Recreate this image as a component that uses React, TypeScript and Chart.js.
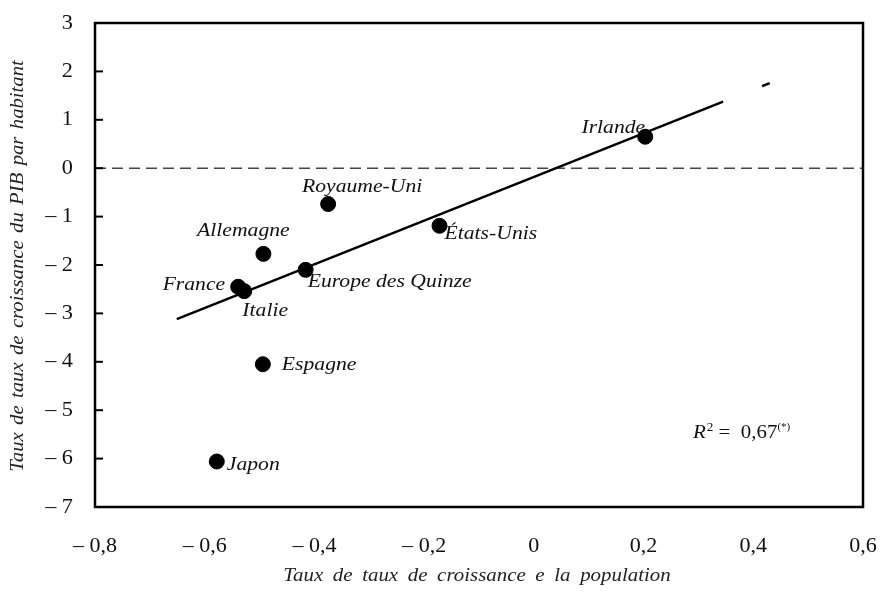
import React, { useEffect, useRef } from "react";
import { Chart, registerables } from "chart.js";

Chart.register(...registerables);

// ---- data ----
const countries = [
  "Japon",
  "Espagne",
  "France",
  "Italie",
  "Allemagne",
  "Europe des Quinze",
  "Royaume-Uni",
  "États-Unis",
  "Irlande",
];
const popGrowth = [-0.578, -0.494, -0.539, -0.528, -0.493, -0.416, -0.375, -0.172, 0.203];
const gdpGrowth = [-6.06, -4.05, -2.45, -2.54, -1.77, -2.1, -0.74, -1.19, 0.65];

const trendX = [-0.651, 0.345];
const trendY = [-3.12, 1.374];
const trendFragX = [0.416, 0.43];
const trendFragY = [1.694, 1.757];

const xTicks = [-0.8, -0.6, -0.4, -0.2, 0, 0.2, 0.4, 0.6];
const yTicks = [-7, -6, -5, -4, -3, -2, -1, 0, 1, 2, 3];

const xTitle = "Taux de taux de croissance e la population";
const yTitle = "Taux de taux de croissance du PIB par habitant";

// label placement relative to each point (pixels), and alignment
const labelDx = [10, 19, -13, 21, -20, 2, 34, 5, 0];
const labelDy = [3, 1, -2, 20, -23, 12, -17, 8, -9];
const labelAlign: CanvasTextAlign[] = ["left", "left", "right", "center", "center", "left", "center", "left", "right"];

const SERIF = "'Liberation Serif', 'Times New Roman', serif";

function fmt(v: number): string {
  const r = Math.round(v * 10) / 10;
  if (Math.abs(r) < 1e-9) return "0";
  const abs = Math.abs(r);
  const s = Number.isInteger(abs) ? String(abs) : abs.toFixed(1).replace(".", ",");
  return r < 0 ? "\u2013 " + s : s;
}

function stretchText(ctx: CanvasRenderingContext2D, text: string, x: number, y: number, align: CanvasTextAlign, sx: number) {
  ctx.save();
  ctx.translate(x, y);
  ctx.scale(sx, 1);
  ctx.textAlign = align;
  ctx.fillText(text, 0, 0);
  ctx.restore();
}

const overlayPlugin = {
  id: "overlay",
  beforeDatasetsDraw(chart: any) {
    const { ctx, chartArea, scales } = chart;
    const y0 = scales.y.getPixelForValue(0);
    ctx.save();
    ctx.strokeStyle = "#444";
    ctx.lineWidth = 1.5;
    ctx.setLineDash([11, 6]);
    ctx.beginPath();
    ctx.moveTo(chartArea.left, y0);
    ctx.lineTo(chartArea.right, y0);
    ctx.stroke();
    ctx.restore();
  },
  afterDatasetsDraw(chart: any) {
    const { ctx, chartArea, scales } = chart;
    const { left, right, top, bottom } = chartArea;
    ctx.save();
    // frame
    ctx.strokeStyle = "#000";
    ctx.lineWidth = 2.5;
    ctx.setLineDash([]);
    ctx.strokeRect(left, top, right - left, bottom - top);
    // inward ticks on y axis
    ctx.lineWidth = 2;
    for (const t of yTicks) {
      const py = scales.y.getPixelForValue(t);
      ctx.beginPath();
      ctx.moveTo(left, py);
      ctx.lineTo(left + 8, py);
      ctx.stroke();
    }
    // tick labels
    ctx.fillStyle = "#111";
    ctx.textBaseline = "middle";
    ctx.font = "21px " + SERIF;
    for (const t of yTicks) {
      stretchText(ctx, fmt(t), left - 22, scales.y.getPixelForValue(t), "right", 1.06);
    }
    for (const t of xTicks) {
      stretchText(ctx, fmt(t), scales.x.getPixelForValue(t), bottom + 39, "center", 1.05);
    }
    // point labels
    ctx.font = "italic 19px " + SERIF;
    countries.forEach((name, i) => {
      const px = scales.x.getPixelForValue(popGrowth[i]);
      const py = scales.y.getPixelForValue(gdpGrowth[i]);
      stretchText(ctx, name, px + labelDx[i], py + labelDy[i], labelAlign[i], 1.14);
    });
    // R² annotation
    const sx = 1.1;
    let x = right - 170;
    const yy = bottom - 74;
    ctx.font = "italic 19px " + SERIF;
    stretchText(ctx, "R", x, yy, "left", sx);
    x += ctx.measureText("R").width * sx;
    ctx.font = "12px " + SERIF;
    stretchText(ctx, "2", x + 1, yy - 5, "left", sx);
    x += ctx.measureText("2").width * sx + 1;
    ctx.font = "19px " + SERIF;
    stretchText(ctx, " =  0,67", x, yy, "left", sx);
    x += ctx.measureText(" =  0,67").width * sx;
    ctx.font = "10px " + SERIF;
    stretchText(ctx, "(*)", x, yy - 6, "left", sx);
    // axis titles
    ctx.fillStyle = "#222";
    ctx.font = "italic 19px " + SERIF;
    (ctx as any).wordSpacing = "4px";
    stretchText(ctx, xTitle, (left + right) / 2 - 2, 576, "center", 1.1);
    (ctx as any).wordSpacing = "2px";
    ctx.save();
    ctx.translate(18, (top + bottom) / 2 + 1);
    ctx.rotate(-Math.PI / 2);
    stretchText(ctx, yTitle, 0, 0, "center", 1.09);
    ctx.restore();
    (ctx as any).wordSpacing = "0px";
    ctx.restore();
  },
};

export default function App() {
  const canvasRef = useRef<HTMLCanvasElement | null>(null);
  useEffect(() => {
    if (!canvasRef.current) return;
    const chart = new Chart(canvasRef.current, {
      type: "scatter",
      data: {
        datasets: [
          {
            type: "line",
            data: trendX.map((x, i) => ({ x, y: trendY[i] })),
            borderColor: "#000",
            borderWidth: 2.5,
            pointRadius: 0,
            fill: false,
          } as any,
          {
            type: "line",
            data: trendFragX.map((x, i) => ({ x, y: trendFragY[i] })),
            borderColor: "#000",
            borderWidth: 2.5,
            pointRadius: 0,
            fill: false,
          } as any,
          {
            data: popGrowth.map((x, i) => ({ x, y: gdpGrowth[i] })),
            backgroundColor: "#000",
            borderColor: "#000",
            pointRadius: 7.5,
            pointHoverRadius: 7.5,
          },
        ],
      },
      options: {
        animation: false,
        responsive: false,
        maintainAspectRatio: false,
        events: [],
        layout: { padding: { top: 23, right: 24, left: 0, bottom: 0 } },
        plugins: { legend: { display: false }, tooltip: { enabled: false } },
        scales: {
          x: {
            type: "linear",
            min: -0.8,
            max: 0.6,
            afterBuildTicks: (s: any) => {
              s.ticks = xTicks.map((v) => ({ value: v }));
            },
            afterFit: (s: any) => {
              s.height = 91;
            },
            grid: { display: false, drawTicks: false },
            border: { display: false },
            ticks: { display: false },
          },
          y: {
            type: "linear",
            min: -7,
            max: 3,
            afterBuildTicks: (s: any) => {
              s.ticks = yTicks.map((v) => ({ value: v }));
            },
            afterFit: (s: any) => {
              s.width = 95;
            },
            grid: { display: false, drawTicks: false },
            border: { display: false },
            ticks: { display: false },
          },
        },
      },
      plugins: [overlayPlugin],
    } as any);
    return () => chart.destroy();
  }, []);
  return (
    <div style={{ position: "fixed", left: 0, top: 0, width: 887, height: 598, background: "#fff" }}>
      <canvas ref={canvasRef} width={887} height={598} style={{ width: 887, height: 598, display: "block" }} />
    </div>
  );
}
